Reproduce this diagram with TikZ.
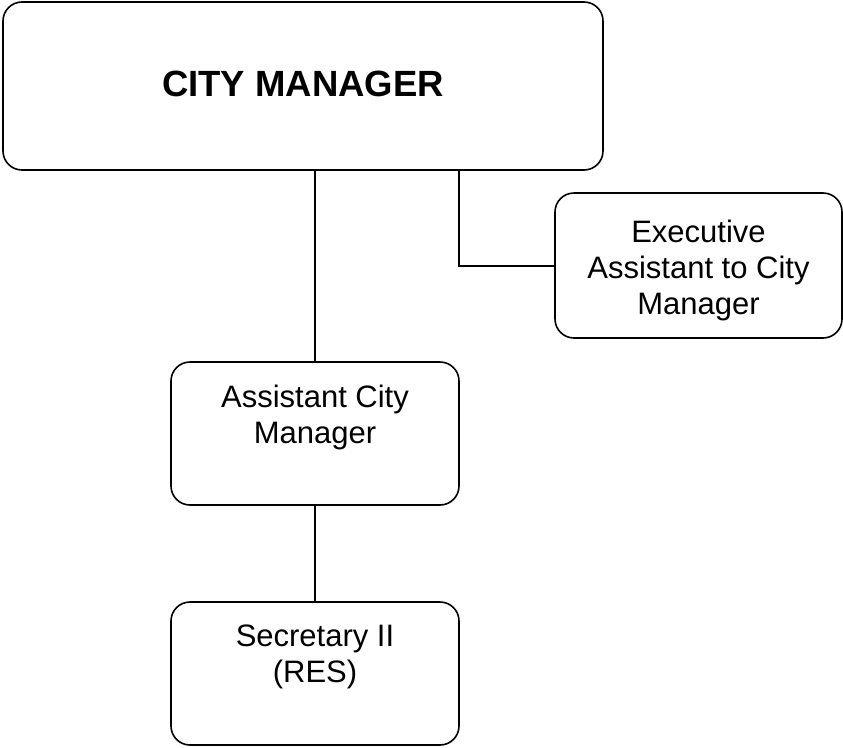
\documentclass[tikz,border=0pt]{standalone}
\usepackage{fontspec}
\setmainfont{Liberation Sans}
\begin{document}
\begin{tikzpicture}[x=1pt,y=-1pt,
  box/.style={draw=black, line width=1.6pt, rounded corners=19pt},
  conn/.style={draw=black, line width=1.5pt},
  lbl/.style={inner sep=0pt, align=center, font=\fontsize{31}{36}\selectfont},
  bigl/.style={inner sep=0pt, font=\fontsize{36.5}{40}\selectfont\bfseries}]
\useasboundingbox (0,0) rectangle (843,747);
% boxes
\path[box] (3,2) rectangle (603,170);
\coordinate (cmS) at (315,170);
\coordinate (cmE) at (459,170);
\path[box] (555,193) rectangle (842,338);
\coordinate (exW) at (555,266);
\path[box] (171,362) rectangle (459,505);
\coordinate (acN) at (315,362);
\coordinate (acS) at (315,505);
\path[box] (171,602) rectangle (459,745);
\coordinate (seN) at (315,602);
% texts
\node[bigl] (cm) at (303,84) {CITY MANAGER};
\node[lbl, anchor=north] (ex) at (698.5,220) {Executive\\Assistant to City\\Manager};
\node[lbl, anchor=north] (ac) at (315,385) {Assistant City\\Manager};
\node[lbl, anchor=north] (se) at (315,625) {Secretary II\\(RES)};
% connectors
\draw[conn] (cmS) -- (acN);
\draw[conn] (acS) -- (seN);
\draw[conn] (cmE) |- (exW);
\end{tikzpicture}
\end{document}
